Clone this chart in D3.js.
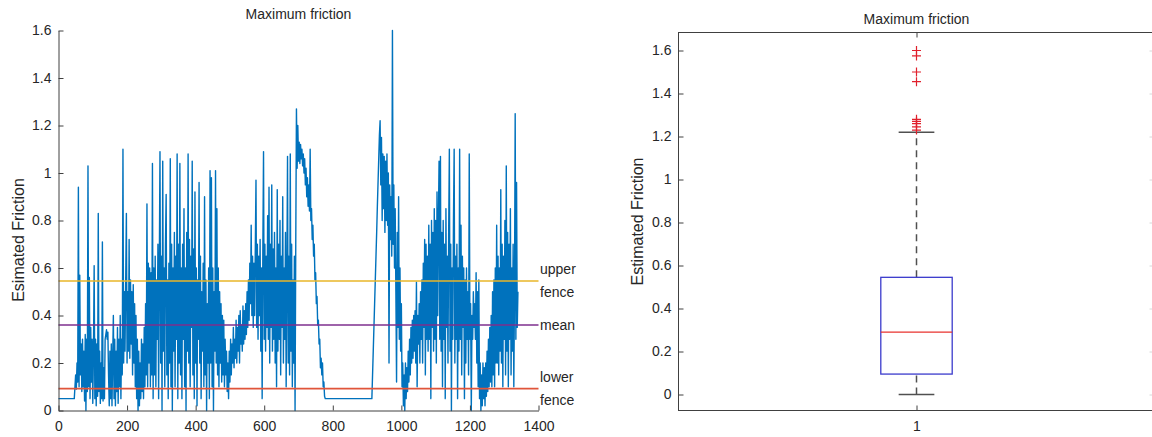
<!DOCTYPE html>
<html>
<head>
<meta charset="utf-8">
<script src="https://cdn.jsdelivr.net/npm/d3@7"></script>
<style>
  body { margin: 0; background: #fff; }
  svg { display: block; }
  text { font-family: "Liberation Sans", Arial, sans-serif; fill: #262626; }
</style>
</head>
<body>
<div id="chart"></div>
<script>
// friction samples, one every 2 steps, 20 per row
const sampleStep = 2;
const frictionValues = [
  0.05,0.05,0.05,0.05,0.05,0.05,0.05,0.05,0.05,0.05,0.05,0.05,0.05,0.05,0.05,0.05,0.05,0.05,0.05,0.05,
  0.05,0.05,0.05,0.05,0.1,0.15,0.09,0.2,0.12,0.94,0.1,0.57,0.15,0.28,0.08,0.3,0.1,0.25,0.04,0.32,
  0.0,0.3,0.08,1.03,0.1,0.56,0.05,0.35,0.12,0.3,0.03,0.25,0.61,0.05,0.3,0.02,0.28,0.06,0.83,0.08,
  0.25,0.03,0.2,0.05,0.71,0.04,0.18,0.05,0.3,0.32,0.34,0.3,0.33,0.15,0.02,0.25,0.05,0.28,0.02,0.22,
  0.4,0.05,0.3,0.02,0.25,0.08,0.35,0.03,0.3,0.1,0.4,0.05,0.3,0.15,1.1,0.2,0.5,0.25,0.55,0.83,
  0.2,0.5,0.25,0.72,0.22,0.55,0.28,0.5,0.15,0.53,0.2,0.45,0.1,0.4,0.05,0.3,0.0,0.25,0.02,0.2,
  0.05,0.3,0.08,0.28,0.05,0.35,0.1,0.45,0.15,0.87,0.1,0.62,0.2,0.6,0.1,0.58,0.15,1.04,0.05,0.6,
  0.15,0.65,0.1,0.55,0.3,0.7,0.05,0.6,1.09,0.2,0.65,0.0,1.05,0.25,0.6,0.1,0.7,0.91,0.15,0.55,
  0.05,0.62,0.2,1.06,0.1,0.7,0.0,0.6,0.25,0.75,0.1,0.65,0.3,1.08,0.05,0.7,0.2,1.04,0.15,0.6,
  0.05,0.7,0.3,0.85,0.1,0.6,0.0,0.75,0.25,1.08,0.2,0.72,0.1,0.65,0.35,1.05,0.15,0.68,0.05,0.92,
  0.2,0.6,0.02,0.55,0.3,0.96,0.2,0.65,0.05,0.5,0.25,0.62,0.1,0.9,0.15,0.55,0.0,0.45,0.2,0.6,
  0.05,1.01,0.2,0.98,0.1,0.6,0.0,0.5,0.25,1.01,0.2,0.85,0.15,0.6,0.1,0.5,0.2,0.45,0.12,0.4,
  0.15,0.38,0.1,0.3,0.15,0.25,0.08,0.2,0.05,0.25,0.12,0.3,0.15,0.28,0.2,0.35,0.18,0.3,0.22,0.38,
  0.2,0.35,0.25,0.4,0.2,0.42,0.28,0.36,0.25,0.44,0.28,0.42,0.3,0.45,0.32,0.5,0.35,0.55,0.38,0.62,
  0.45,0.78,0.4,0.65,0.35,0.62,0.4,0.68,0.97,0.35,0.7,0.3,0.65,0.4,0.72,0.25,0.6,0.05,0.68,1.09,
  0.3,0.7,0.25,0.65,0.35,0.82,0.3,0.94,0.2,0.7,0.35,0.95,0.25,0.68,0.3,0.75,0.2,0.6,0.1,0.93,
  0.25,0.7,0.3,0.8,0.15,0.65,0.35,0.9,0.2,0.6,0.3,0.75,0.1,0.55,1.07,0.2,0.65,0.15,1.08,0.25,
  0.7,0.1,0.55,0.2,0.65,0.0,0.7,1.27,1.02,1.2,1.05,1.13,1.04,1.12,1.06,1.1,1.03,1.08,1.0,1.06,
  0.95,1.02,0.9,0.98,0.86,0.95,0.84,1.1,0.8,0.85,0.72,0.78,0.65,0.7,0.55,0.58,0.45,0.48,0.36,0.38,
  0.28,0.3,0.18,0.22,0.15,0.2,0.1,0.12,0.06,0.05,0.05,0.05,0.05,0.05,0.05,0.05,0.05,0.05,0.05,0.05,
  0.05,0.05,0.05,0.05,0.05,0.05,0.05,0.05,0.05,0.05,0.05,0.05,0.05,0.05,0.05,0.05,0.05,0.05,0.05,0.05,
  0.05,0.05,0.05,0.05,0.05,0.05,0.05,0.05,0.05,0.05,0.05,0.05,0.05,0.05,0.05,0.05,0.05,0.05,0.05,0.05,
  0.05,0.05,0.05,0.05,0.05,0.05,0.05,0.05,0.05,0.05,0.05,0.05,0.05,0.05,0.05,0.05,0.05,0.05,0.15,0.25,
  0.35,0.45,0.55,0.65,0.75,0.86,0.96,1.06,1.16,1.22,0.95,1.15,0.8,1.08,0.85,1.07,0.75,1.05,0.8,1.08,
  0.78,1.0,0.2,0.95,0.72,0.9,0.65,1.6,0.7,0.95,0.6,0.85,0.5,0.12,0.75,0.35,0.9,0.3,0.6,0.25,
  0.45,0.1,0.2,0.02,0.15,0.0,0.2,0.05,0.18,0.08,0.25,0.12,0.3,0.15,0.35,0.2,0.38,0.22,0.4,0.25,
  0.42,0.2,0.54,0.1,0.4,0.28,0.45,0.2,0.5,0.3,0.55,0.2,0.62,0.35,0.72,0.15,0.7,0.3,0.65,0.25,
  0.78,0.3,0.7,0.05,0.8,0.35,0.75,0.25,0.85,0.3,0.8,0.2,0.92,0.4,0.8,1.05,0.3,1.07,0.25,0.75,
  0.1,0.8,0.3,0.7,0.05,0.85,0.35,0.65,0.2,0.75,1.1,0.25,0.7,0.0,0.6,0.3,0.8,1.1,0.2,0.65,
  0.3,0.7,0.05,0.6,0.25,1.1,0.3,0.78,0.15,0.65,0.35,0.6,0.05,0.55,0.2,0.6,0.3,0.5,0.15,1.08,
  0.3,0.45,0.0,0.4,0.3,0.5,0.35,0.45,0.3,0.58,0.2,0.5,0.1,0.55,0.05,0.2,0.0,0.15,0.02,0.2,
  0.05,0.18,0.02,0.2,0.06,0.25,0.08,0.3,0.1,0.35,0.12,0.4,0.1,0.5,0.15,0.55,0.1,0.6,0.2,0.78,
  0.2,0.65,0.15,0.6,0.25,0.93,0.2,0.7,0.1,0.65,0.3,0.8,0.15,1.03,0.25,0.75,0.1,0.7,0.3,0.85,
  0.15,0.6,0.25,0.7,0.1,0.5,1.25,0.3,0.96,0.35,0.5
];

const xTicks = [0, 200, 400, 600, 800, 1000, 1200, 1400];
const yTicks = [0, 0.2, 0.4, 0.6, 0.8, 1, 1.2, 1.4, 1.6];

// reference lines on the left plot
const refNames = ["upper fence", "mean", "lower fence"];
const refValues = [0.545, 0.36, 0.092];
const refColors = ["#E8B628", "#7E2F8E", "#E0553A"];

// boxplot summary (right plot)
const boxCategories = ["1"];
const boxQuartiles = [0.095, 0.29, 0.545];
const boxWhiskers = [0, 1.22];
const boxOutliers = [1.60, 1.575, 1.50, 1.455, 1.28, 1.27, 1.26, 1.245, 1.23];

const width = 1152, height = 437;
const svg = d3.select("#chart").append("svg")
  .attr("width", width)
  .attr("height", height);

const fmt = d3.format("~g");

function styleAxis(g) {
  g.selectAll("path.domain").attr("stroke", "#404040");
  g.selectAll(".tick line").attr("stroke", "#404040");
  g.selectAll(".tick text").attr("fill", "#404040")
    .style("font-size", "14px")
    .style("font-family", "'Liberation Sans', Arial, sans-serif");
}

// ---------- left: time series ----------
const x = d3.scaleLinear().domain([0, 1400]).range([58.5, 538.5]);
const y = d3.scaleLinear().domain([0, 1.6]).range([410.5, 30.5]);

const left = svg.append("g");

left.append("path")
  .datum(frictionValues)
  .attr("fill", "none")
  .attr("stroke", "#0072BD")
  .attr("stroke-width", 1.4)
  .attr("stroke-linejoin", "round")
  .attr("d", d3.line()
    .x((d, i) => x(i * sampleStep))
    .y(d => y(d)));

left.selectAll("line.ref")
  .data(refValues)
  .enter()
  .append("line")
  .attr("class", "ref")
  .attr("x1", x(0))
  .attr("x2", x(1400))
  .attr("y1", d => y(d))
  .attr("y2", d => y(d))
  .style("stroke", (d, i) => refColors[i])
  .style("stroke-width", 1.6);

left.append("g")
  .attr("transform", `translate(0,${y(0)})`)
  .call(d3.axisBottom(x).tickValues(xTicks).tickSize(-5).tickSizeOuter(0).tickPadding(11).tickFormat(fmt))
  .call(styleAxis);

left.append("g")
  .attr("transform", `translate(${x(0)},0)`)
  .call(d3.axisLeft(y).tickValues(yTicks).tickSize(-5).tickSizeOuter(0).tickPadding(7).tickFormat(fmt))
  .call(styleAxis);

// labels beside the reference lines, two lines for the fences
refNames.forEach((name, i) => {
  const words = name.split(" ");
  const yy = y(refValues[i]);
  const t = left.append("text")
    .attr("x", 540)
    .style("font-size", "14px");
  if (words.length === 1) {
    t.attr("y", yy + 5).text(name);
  } else {
    t.append("tspan").attr("x", 540).attr("y", yy - 7).text(words[0]);
    t.append("tspan").attr("x", 540).attr("y", yy + 16).text(words[1]);
  }
});

left.append("text")
  .attr("x", (x(0) + x(1400)) / 2)
  .attr("y", 19)
  .attr("text-anchor", "middle")
  .style("font-size", "14px")
  .text("Maximum friction");

left.append("text")
  .attr("transform", "translate(24,240) rotate(-90)")
  .attr("text-anchor", "middle")
  .style("font-size", "16px")
  .text("Esimated Friction");

// ---------- right: boxplot ----------
const xb = d3.scaleLinear().domain([0.5, 1.5]).range([678.5, 1154.5]);
const yb = d3.scaleLinear().domain([0, 1.6]).range([394.5, 50.5]);
const frameTop = 32.5, frameBottom = 410.5;

const right = svg.append("g");

right.append("rect")
  .attr("x", xb(0.5))
  .attr("y", frameTop)
  .attr("width", xb(1.5) - xb(0.5))
  .attr("height", frameBottom - frameTop)
  .attr("fill", "none")
  .attr("stroke", "#404040");

right.append("g")
  .attr("transform", `translate(${xb(0.5)},0)`)
  .call(d3.axisLeft(yb).tickValues(yTicks).tickSize(-5).tickSizeOuter(0).tickPadding(7).tickFormat(fmt))
  .call(styleAxis)
  .call(g => g.select("path.domain").remove());

right.append("g")
  .attr("transform", `translate(${xb(1.5)},0)`)
  .call(d3.axisRight(yb).tickValues(yTicks).tickSize(-5).tickSizeOuter(0).tickFormat(""))
  .call(g => g.select("path.domain").remove())
  .call(g => g.selectAll(".tick line").attr("stroke", "#d8d8d8"));

right.append("g")
  .attr("transform", `translate(0,${frameBottom})`)
  .call(d3.axisBottom(xb).tickValues([1]).tickSize(-5).tickSizeOuter(0).tickPadding(11).tickFormat((d, i) => boxCategories[i]))
  .call(styleAxis)
  .call(g => g.select("path.domain").remove());

right.append("g")
  .attr("transform", `translate(0,${frameTop})`)
  .call(d3.axisTop(xb).tickValues([1]).tickSize(-5).tickSizeOuter(0).tickFormat(""))
  .call(g => g.select("path.domain").remove())
  .call(g => g.selectAll(".tick line").attr("stroke", "#404040"));

const cx = xb(1);
const boxHalf = 0.075, capHalf = 0.0375;

// whiskers (dashed)
[[boxQuartiles[2], boxWhiskers[1]], [boxWhiskers[0], boxQuartiles[0]]].forEach(([a, b]) => {
  right.append("line")
    .attr("x1", cx).attr("x2", cx)
    .attr("y1", yb(a)).attr("y2", yb(b))
    .attr("stroke", "#505050")
    .attr("stroke-width", 1.5)
    .attr("stroke-dasharray", "7,5");
});

right.selectAll("line.cap")
  .data(boxWhiskers)
  .enter()
  .append("line")
  .attr("class", "cap")
  .attr("x1", xb(1 - capHalf)).attr("x2", xb(1 + capHalf))
  .attr("y1", d => yb(d)).attr("y2", d => yb(d))
  .attr("stroke", "#505050")
  .attr("stroke-width", 1.5);

right.append("rect")
  .attr("x", xb(1 - boxHalf))
  .attr("y", yb(boxQuartiles[2]))
  .attr("width", xb(1 + boxHalf) - xb(1 - boxHalf))
  .attr("height", yb(boxQuartiles[0]) - yb(boxQuartiles[2]))
  .attr("fill", "none")
  .attr("stroke", "#3b3bcc")
  .attr("stroke-width", 1.3);

right.append("line")
  .attr("x1", xb(1 - boxHalf)).attr("x2", xb(1 + boxHalf))
  .attr("y1", yb(boxQuartiles[1])).attr("y2", yb(boxQuartiles[1]))
  .attr("stroke", "#e8322e")
  .attr("stroke-width", 1.2);

right.selectAll("path.outlier")
  .data(boxOutliers)
  .enter()
  .append("path")
  .attr("class", "outlier")
  .attr("d", d => {
    const px = cx, py = yb(d), s = 4.5;
    return `M${px - s},${py}H${px + s}M${px},${py - s}V${py + s}`;
  })
  .attr("stroke", "#e0202c")
  .attr("stroke-width", 1.2)
  .attr("fill", "none");

right.append("text")
  .attr("x", cx)
  .attr("y", 24)
  .attr("text-anchor", "middle")
  .style("font-size", "14px")
  .text("Maximum friction");

right.append("text")
  .attr("transform", `translate(643,${(frameTop + frameBottom) / 2}) rotate(-90)`)
  .attr("text-anchor", "middle")
  .style("font-size", "16px")
  .text("Estimated Friction");
</script>
</body>
</html>
